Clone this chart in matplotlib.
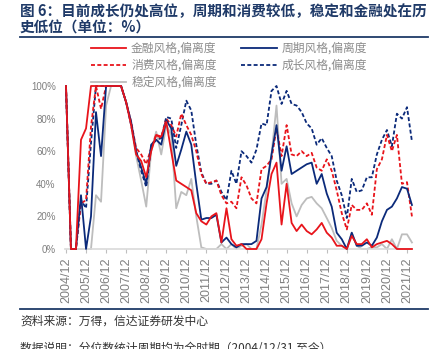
import matplotlib
matplotlib.use("Agg")
import matplotlib.pyplot as plt
import matplotlib.dates as mdates
from matplotlib.lines import Line2D
from matplotlib.ticker import FuncFormatter
import pandas as pd
import numpy as np

plt.rcParams['font.family'] = ['Noto Sans CJK SC', 'DejaVu Sans']

# ---------------- data ----------------
dates = pd.date_range('2004-12-31', periods=70, freq='QE')
year_ticks = pd.date_range('2004-12-31', '2021-12-31', freq='YE')
year_labels = [f"{d.year}/12" for d in year_ticks]

finance = [100, 0, 0, 67, 74, 100, 100, 100, 100, 100,
           100, 100, 90, 76, 58, 54, 44, 60, 70, 69,
           78, 60, 42, 40, 38, 36, 22, 17, 15, 20,
           22, 4, 25, 6, 2, 3, 0, 0, 0, 6,
           28, 46, 53, 15, 40, 16, 11, 15, 11, 9,
           12, 16, 10, 7, 2, 2, 0, 8, 3, 3,
           6, 1, 3, 4, 5, 3, 0, 0, 0, 0]
cycle = [100, 0, 0, 33, 0, 20, 84, 57, 100, 100,
         100, 100, 90, 78, 60, 50, 40, 64, 67, 64,
         79, 74, 51, 61, 72, 64, 40, 18, 19, 19,
         21, 4, 7, 3, 1, 3, 3, 3, 5, 31,
         38, 58, 76, 48, 63, 46, 48, 50, 52, 53,
         40, 46, 34, 26, 10, 6, 0, 10, 2, 2,
         4, 2, 7, 17, 24, 26, 31, 38, 37, 27]
consumer = [100, 0, 0, 28, 30, 75, 100, 86, 100, 100,
            100, 100, 90, 78, 62, 58, 52, 62, 70, 68,
            80, 76, 69, 83, 76, 70, 60, 46, 40, 41,
            42, 33, 28, 29, 25, 44, 39, 31, 28, 49,
            51, 55, 74, 57, 76, 58, 57, 60, 57, 59,
            50, 48, 55, 48, 36, 22, 12, 27, 24, 24,
            28, 21, 49, 55, 70, 60, 70, 40, 41, 20]
growth = [100, 0, 0, 30, 25, 65, 100, 100, 100, 100,
          100, 100, 90, 76, 60, 48, 38, 63, 67, 68,
          81, 80, 62, 76, 91, 85, 64, 47, 40, 40,
          42, 35, 30, 48, 40, 60, 57, 53, 61, 77,
          76, 97, 100, 89, 97, 89, 88, 84, 77, 74,
          64, 68, 62, 57, 42, 33, 19, 43, 35, 36,
          44, 44, 58, 67, 73, 63, 83, 80, 87, 66]
stable = [100, 0, 0, 0, 0, 0, 33, 29, 88, 100,
          100, 100, 90, 76, 57, 42, 26, 60, 72, 58,
          76, 70, 25, 35, 33, 43, 20, 1, 0, 0,
          0, 3, 0, 3, 0, 2, 3, 0, 0, 15,
          36, 58, 88, 40, 43, 28, 20, 27, 31, 32,
          28, 25, 19, 13, 5, 2, 0, 10, 2, 0,
          0, 1, 1, 3, 0, 6, 0, 9, 9, 4]

labels = ['金融风格,偏离度', '周期风格,偏离度', '消费风格,偏离度',
          '成长风格,偏离度', '稳定风格,偏离度']

RED = '#E8141B'
BLUE = '#0B2A7A'
GRAY = '#BDBDBD'
NAVY = '#1F3A68'
TXT = '#7F7F7F'

# ---------------- figure ----------------
W, H = 437, 349
fig = plt.figure(figsize=(W / 100, H / 100), dpi=100)

x0 = mdates.date2num(dates[0]) - 10
x1 = mdates.date2num(dates[-1]) + 10
pxday = 341 / (mdates.date2num(year_ticks[-1]) - mdates.date2num(year_ticks[0]))
left_px = 66 - 10 * pxday
width_px = (x1 - x0) * pxday
ax = fig.add_axes([left_px / W, (H - 249) / H, width_px / W, 163 / H])

lw = 1.3
dash = (0, (2.2, 1.3))
ax.plot(dates, stable, color=GRAY, lw=lw, clip_on=False, zorder=2)
ax.plot(dates, growth, color=BLUE, lw=lw, ls=dash, clip_on=False, zorder=3)
ax.plot(dates, consumer, color=RED, lw=lw, ls=dash, clip_on=False, zorder=3)
ax.plot(dates, cycle, color=BLUE, lw=lw, clip_on=False, zorder=4)
ax.plot(dates, finance, color=RED, lw=lw, clip_on=False, zorder=5)

ax.set_xlim(x0, x1)
ax.set_ylim(0, 100)
ax.set_yticks([0, 20, 40, 60, 80, 100])
ax.yaxis.set_major_formatter(FuncFormatter(lambda v, p: f"{int(v)}%"))
ax.set_xticks(year_ticks)
ax.set_xticklabels(year_labels, rotation=90, fontsize=9, color=TXT,
                   family=['Liberation Sans', 'DejaVu Sans'])
for t in ax.get_yticklabels():
    t.set_fontsize(7)
    t.set_color(TXT)
    t.set_family(['Liberation Sans', 'DejaVu Sans'])
ax.tick_params(axis='y', length=0, pad=7)
ax.tick_params(axis='x', length=3, color='#BFBFBF', pad=3)
for s in ['top', 'right', 'left']:
    ax.spines[s].set_visible(False)
ax.spines['bottom'].set_color('#D9D9D9')
ax.spines['bottom'].set_linewidth(1.2)
ax.patch.set_alpha(0)

# legend
handles = [
    Line2D([], [], color=RED, lw=lw),
    Line2D([], [], color=RED, lw=lw, ls=dash),
    Line2D([], [], color=GRAY, lw=lw),
    Line2D([], [], color=BLUE, lw=lw),
    Line2D([], [], color=BLUE, lw=lw, ls=dash),
]
leg_labels = [labels[0], labels[2], labels[4], labels[1], labels[3]]
leg = fig.legend(handles, leg_labels, ncol=2, loc='upper left',
                 bbox_to_anchor=(91 / W, 1 - 42 / H), frameon=False,
                 fontsize=8.5, handlelength=3.0, handletextpad=0.4,
                 columnspacing=2.1, labelspacing=0.34, borderpad=0,
                 borderaxespad=0)
for t in leg.get_texts():
    t.set_color('#8C8C8C')

# title
fig.text(20 / W, 1 - 11 / H, '图 6：目前成长仍处高位，周期和消费较低，稳定和金融处在历',
         fontsize=10.5, fontweight='bold', color=NAVY, va='center', ha='left')
fig.text(20 / W, 1 - 28 / H, '史低位（单位：%）',
         fontsize=10.5, fontweight='bold', color=NAVY, va='center', ha='left')
fig.add_artist(Line2D([20 / W, 428 / W], [1 - 37 / H, 1 - 37 / H],
                      color=NAVY, lw=1.3, transform=fig.transFigure))

# footer
fig.add_artist(Line2D([20 / W, 428 / W], [1 - 309 / H, 1 - 309 / H],
                      color=NAVY, lw=1.3, transform=fig.transFigure))
fig.text(20 / W, 1 - 321 / H, '资料来源：万得，信达证券研发中心',
         fontsize=8.5, color='#333333', va='center', ha='left')
fig.text(20 / W, 1 - 342 / H, '数据说明：分位数统计周期均为全时期（2004/12/31 至今）',
         fontsize=8.5, color='#333333', va='top', ha='left')

fig.savefig('out.png', dpi=100)
